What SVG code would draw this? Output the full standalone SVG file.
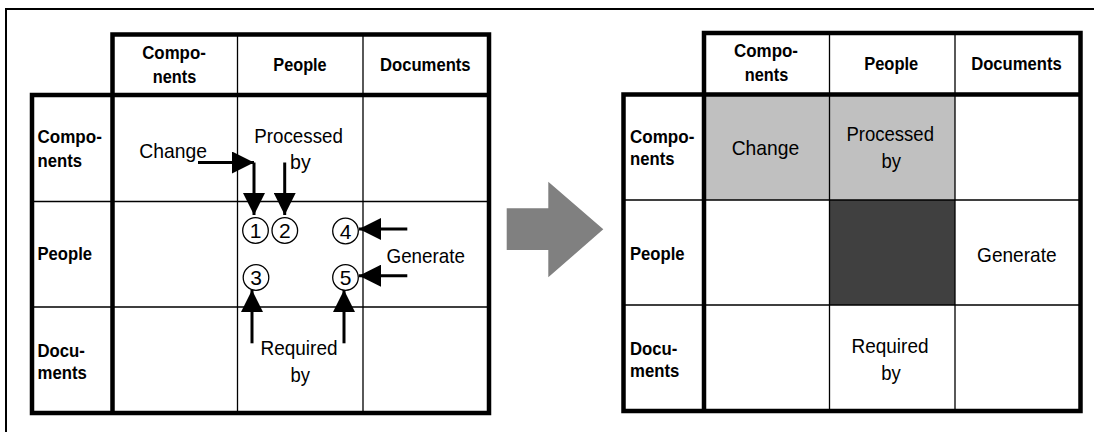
<svg xmlns="http://www.w3.org/2000/svg" width="1094" height="432" viewBox="0 0 1094 432">
  <style>
    .frame { stroke: #000; stroke-width: 2; fill: none; }
    .thick { stroke: #000; stroke-width: 4.5; fill: none; stroke-linecap: square; }
    .thin { stroke: #000; stroke-width: 1.3; fill: none; }
    .h { font-family: "Liberation Sans", Arial, sans-serif; font-weight: bold; font-size: 18px; fill: #000; }
    .t { font-family: "Liberation Sans", Arial, sans-serif; font-size: 21px; fill: #000; }
    .n { font-family: "Liberation Sans", Arial, sans-serif; font-size: 21px; fill: #000; text-anchor: middle; }
    .c { text-anchor: middle; }
    .ring { stroke: #000; stroke-width: 1.3; fill: #fff; }
    .arrow { stroke: #000; stroke-width: 3; fill: none; marker-end: url(#head); }
  </style>
  <defs>
    <marker id="head" viewBox="0 0 22 22" refX="22" refY="11" markerWidth="22" markerHeight="22" markerUnits="userSpaceOnUse" orient="auto">
      <path d="M0,0 L22,11 L0,22 Z" fill="#000"/>
    </marker>
  </defs>

  <rect width="1094" height="432" fill="#fff"/>

  <!-- open frame: top and left edges -->
  <path class="frame" d="M6,432 V9 H1094"/>

  <!-- dependency matrix with numbered relations -->
  <g id="matrix-before">
    <path class="thin" d="M237.5,34.5 V413 M363,34.5 V413 M32,201.5 H489 M32,307 H489"/>
    <path class="thick" d="M112.5,34.5 H489 V413 H32 V95 H489 M112.5,34.5 V413"/>
    <text class="h c" x="174" y="58.5" textLength="63.6" lengthAdjust="spacingAndGlyphs">Compo-</text>
    <text class="h c" x="174.5" y="82.5" textLength="43.5" lengthAdjust="spacingAndGlyphs">nents</text>
    <text class="h c" x="300" y="70.5" textLength="53.3" lengthAdjust="spacingAndGlyphs">People</text>
    <text class="h c" x="425.3" y="70.5" textLength="90.7" lengthAdjust="spacingAndGlyphs">Documents</text>
    <text class="h" x="37.5" y="143" textLength="64.3" lengthAdjust="spacingAndGlyphs">Compo-</text>
    <text class="h" x="37.5" y="166.5" textLength="44.5" lengthAdjust="spacingAndGlyphs">nents</text>
    <text class="h" x="37.5" y="260" textLength="54.6" lengthAdjust="spacingAndGlyphs">People</text>
    <text class="h" x="37.5" y="356.5" textLength="47.4" lengthAdjust="spacingAndGlyphs">Docu-</text>
    <text class="h" x="37.5" y="378.5" textLength="49.3" lengthAdjust="spacingAndGlyphs">ments</text>
    <text class="t" x="139.3" y="158.3" textLength="67.7" lengthAdjust="spacingAndGlyphs">Change</text>
    <text class="t" x="254.3" y="143" textLength="88.6" lengthAdjust="spacingAndGlyphs">Processed</text>
    <text class="t" x="290" y="169" textLength="20.7" lengthAdjust="spacingAndGlyphs">by</text>
    <text class="t" x="386.5" y="263.3" textLength="78.5" lengthAdjust="spacingAndGlyphs">Generate</text>
    <text class="t" x="260.5" y="355" textLength="77" lengthAdjust="spacingAndGlyphs">Required</text>
    <text class="t" x="290.5" y="381.7" textLength="19.5" lengthAdjust="spacingAndGlyphs">by</text>
  </g>

  <!-- relation arrows -->
  <g id="connectors">
    <path class="arrow" d="M198,162.5 H254"/>
    <path class="arrow" d="M254,162.5 V215"/>
    <path class="arrow" d="M284.7,162.5 V215"/>
    <path class="arrow" d="M407.3,229 H359"/>
    <path class="arrow" d="M407.3,275.7 H359"/>
    <path class="arrow" d="M252,343.3 V290"/>
    <path class="arrow" d="M344,343.3 V290"/>
  </g>

  <!-- numbered relation markers -->
  <g id="mark-1"><circle class="ring" cx="255.5" cy="230.5" r="12.8"/><text class="n" x="255.5" y="238">1</text></g>
  <g id="mark-2"><circle class="ring" cx="284.8" cy="230.5" r="12.8"/><text class="n" x="284.8" y="238">2</text></g>
  <g id="mark-3"><circle class="ring" cx="256" cy="277.5" r="12.8"/><text class="n" x="256" y="285">3</text></g>
  <g id="mark-4"><circle class="ring" cx="345.5" cy="231" r="12.8"/><text class="n" x="345.5" y="238.5">4</text></g>
  <g id="mark-5"><circle class="ring" cx="345.5" cy="277.5" r="12.8"/><text class="n" x="345.5" y="285">5</text></g>

  <!-- transition arrow -->
  <g id="transition">
    <polygon points="506.7,208.3 548.3,208.3 548.3,181.7 603.3,229.3 548.3,277.3 548.3,250 506.7,250" fill="#808080"/>
  </g>

  <!-- resulting matrix with shaded cells -->
  <g id="matrix-after">
    <rect x="704" y="94.5" width="125.5" height="105.5" fill="#c0c0c0"/>
    <rect x="829.5" y="94.5" width="125.5" height="105.5" fill="#c0c0c0"/>
    <rect x="829.5" y="200" width="125.5" height="105" fill="#404040"/>
    <path class="thin" d="M829.5,33 V411 M955,33 V411 M623.5,200 H1080.5 M623.5,305 H1080.5"/>
    <path class="thick" d="M704,33 H1080.5 V411 H623.5 V94.5 H1080.5 M704,33 V411"/>
    <text class="h c" x="766" y="57" textLength="64" lengthAdjust="spacingAndGlyphs">Compo-</text>
    <text class="h c" x="766.5" y="81" textLength="43.5" lengthAdjust="spacingAndGlyphs">nents</text>
    <text class="h c" x="891.2" y="69.5" textLength="54" lengthAdjust="spacingAndGlyphs">People</text>
    <text class="h c" x="1016.5" y="69.5" textLength="90.7" lengthAdjust="spacingAndGlyphs">Documents</text>
    <text class="h" x="630" y="142.7" textLength="64.3" lengthAdjust="spacingAndGlyphs">Compo-</text>
    <text class="h" x="630" y="164.5" textLength="44.5" lengthAdjust="spacingAndGlyphs">nents</text>
    <text class="h" x="630" y="259.5" textLength="54.6" lengthAdjust="spacingAndGlyphs">People</text>
    <text class="h" x="630" y="354.5" textLength="47.4" lengthAdjust="spacingAndGlyphs">Docu-</text>
    <text class="h" x="630" y="376.7" textLength="49.3" lengthAdjust="spacingAndGlyphs">ments</text>
    <text class="t c" x="765.4" y="155.3" textLength="67.5" lengthAdjust="spacingAndGlyphs">Change</text>
    <text class="t c" x="890.2" y="140.7" textLength="87.5" lengthAdjust="spacingAndGlyphs">Processed</text>
    <text class="t c" x="891.3" y="168.3" textLength="19.5" lengthAdjust="spacingAndGlyphs">by</text>
    <text class="t c" x="1016.8" y="261.7" textLength="79.5" lengthAdjust="spacingAndGlyphs">Generate</text>
    <text class="t c" x="890" y="352.7" textLength="77" lengthAdjust="spacingAndGlyphs">Required</text>
    <text class="t c" x="891" y="380" textLength="19.5" lengthAdjust="spacingAndGlyphs">by</text>
  </g>
</svg>
